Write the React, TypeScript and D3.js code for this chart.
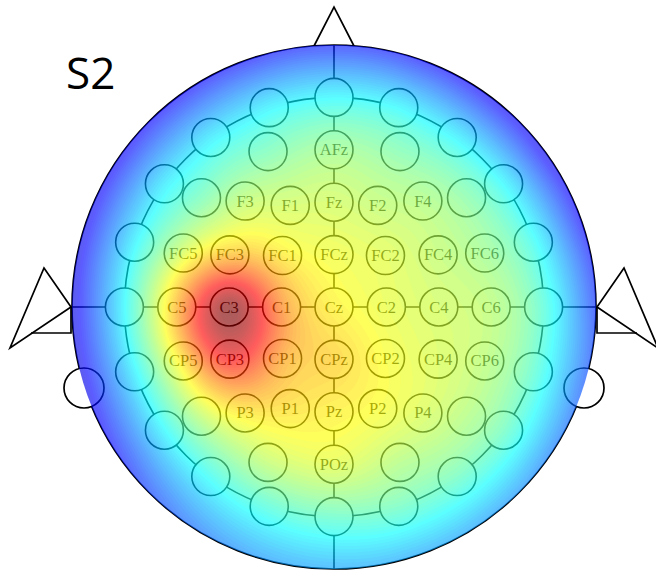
import { useMemo } from "react";
import * as d3 from "d3";

const W = 656;
const H = 572;
const CX = 334;
const CY = 307;
const HEAD_R = 262;
const ELEC_R = 19;
const STEP = 3;

// outer ring of the 10-10 montage: 72° from Cz, every 18° clockwise from the nose
const ringLabels = ["Fpz", "Fp2", "AF8", "F8", "FT8", "T8", "TP8", "P8", "PO8", "O2",
  "Oz", "O1", "PO7", "P7", "TP7", "T7", "FT7", "F7", "AF7", "Fp1"];
const ringValues = [0.37, 0.37, 0.36, 0.37, 0.39, 0.42, 0.43, 0.45, 0.45, 0.45,
  0.44, 0.42, 0.39, 0.37, 0.36, 0.37, 0.36, 0.35, 0.35, 0.36];
const RING_POLAR = 72;

// inner electrodes: polar angle from Cz, azimuth from the nose (deg)
const innerLabels = ["AF3", "AFz", "AF4",
  "F5", "F3", "F1", "Fz", "F2", "F4", "F6",
  "FC5", "FC3", "FC1", "FCz", "FC2", "FC4", "FC6",
  "C5", "C3", "C1", "Cz", "C2", "C4", "C6",
  "CP5", "CP3", "CP1", "CPz", "CP2", "CP4", "CP6",
  "P5", "P3", "P1", "Pz", "P2", "P4", "P6",
  "PO3", "POz", "PO4"];
const innerPolar = [58, 54, 58,
  59, 47.5, 38, 36, 38, 47.5, 59,
  55, 40, 25, 18, 25, 40, 55,
  54, 36, 18, 0, 18, 36, 54,
  55, 40, 25, 18, 25, 40, 55,
  59, 47.5, 38, 36, 38, 47.5, 59,
  58, 54, 58];
const innerAzimuth = [-23, 0, 23,
  -50.5, -40, -23.3, 0, 23.3, 40, 50.5,
  -70.3, -63.4, -45, 0, 45, 63.4, 70.3,
  -90, -90, -90, 0, 90, 90, 90,
  -109.7, -116.6, -135, 180, 135, 116.6, 109.7,
  -129.5, -140, -156.7, 180, 156.7, 140, 129.5,
  -157, 180, 157];
const innerValues = [0.46, 0.51, 0.47,
  0.46, 0.55, 0.57, 0.57, 0.55, 0.53, 0.48,
  0.58, 0.7, 0.65, 0.61, 0.59, 0.55, 0.51,
  0.71, 1.0, 0.76, 0.64, 0.6, 0.57, 0.54,
  0.66, 0.88, 0.73, 0.68, 0.62, 0.58, 0.54,
  0.55, 0.65, 0.66, 0.64, 0.62, 0.58, 0.53,
  0.55, 0.59, 0.53];

// values on the head rim (90° from Cz), every 18° clockwise from the nose
const rimValues = [0.14, 0.13, 0.11, 0.1, 0.12, 0.16, 0.2, 0.24, 0.27, 0.28,
  0.28, 0.26, 0.21, 0.14, 0.1, 0.09, 0.1, 0.11, 0.12, 0.13];

const shownLabels = new Set(["AFz", "F3", "F1", "Fz", "F2", "F4",
  "FC5", "FC3", "FC1", "FCz", "FC2", "FC4", "FC6",
  "C5", "C3", "C1", "Cz", "C2", "C4", "C6",
  "CP5", "CP3", "CP1", "CPz", "CP2", "CP4", "CP6",
  "P3", "P1", "Pz", "P2", "P4", "POz"]);

const title = "S2";

const jet = d3.scaleLinear<string>()
  .domain([0, 0.125, 0.375, 0.625, 0.875, 1])
  .range(["#00007f", "#0000ff", "#00ffff", "#ffff00", "#ff0000", "#7f0000"])
  .clamp(true);

const projection = d3.geoAzimuthalEquidistant()
  .rotate([0, -90])
  .scale(HEAD_R / (Math.PI / 2))
  .translate([CX, CY]);

const place = (polar: number, az: number) =>
  projection([180 - az, 90 - polar]) as [number, number];

// thin plate spline through the electrode values
function thinPlate(pts: { x: number; y: number; v: number }[]) {
  const n = pts.length;
  const m = n + 3;
  const U = (r: number) => (r > 1e-9 ? r * r * Math.log(r) : 0);
  const A: number[][] = [];
  for (let i = 0; i < m; i++) A.push(new Array(m + 1).fill(0));
  for (let i = 0; i < n; i++) {
    for (let j = 0; j < n; j++) {
      A[i][j] = U(Math.hypot(pts[i].x - pts[j].x, pts[i].y - pts[j].y));
    }
    A[i][n] = 1; A[i][n + 1] = pts[i].x; A[i][n + 2] = pts[i].y;
    A[n][i] = 1; A[n + 1][i] = pts[i].x; A[n + 2][i] = pts[i].y;
    A[i][m] = pts[i].v;
  }
  for (let c = 0; c < m; c++) {
    let p = c;
    for (let r = c + 1; r < m; r++) if (Math.abs(A[r][c]) > Math.abs(A[p][c])) p = r;
    [A[c], A[p]] = [A[p], A[c]];
    for (let r = 0; r < m; r++) {
      if (r === c) continue;
      const f = A[r][c] / A[c][c];
      if (f === 0) continue;
      for (let k = c; k <= m; k++) A[r][k] -= f * A[c][k];
    }
  }
  const w = A.map((row, i) => row[m] / row[i]);
  return (x: number, y: number) => {
    let s = w[n] + w[n + 1] * x + w[n + 2] * y;
    for (let i = 0; i < n; i++) s += w[i] * U(Math.hypot(x - pts[i].x, y - pts[i].y));
    return s;
  };
}

export default function App() {
  const electrodes = useMemo(() => {
    const ring = ringLabels.map((label, i) => {
      const [x, y] = place(RING_POLAR, i * 18);
      return { label, x, y, v: ringValues[i] };
    });
    const inner = innerLabels.map((label, i) => {
      const [x, y] = place(innerPolar[i], innerAzimuth[i]);
      return { label, x, y, v: innerValues[i] };
    });
    return [...ring, ...inner];
  }, []);

  const contours = useMemo(() => {
    const rim = rimValues.map((v, i) => {
      const [x, y] = place(90, i * 18);
      return { x, y, v };
    });
    const norm = (p: { x: number; y: number; v: number }) =>
      ({ x: (p.x - CX) / HEAD_R, y: (p.y - CY) / HEAD_R, v: p.v });
    const f = thinPlate([...electrodes, ...rim].map(norm));
    const x0 = CX - HEAD_R - STEP * 2;
    const y0 = CY - HEAD_R - STEP * 2;
    const nx = Math.ceil((HEAD_R * 2) / STEP) + 4;
    const ny = nx;
    const values = new Float64Array(nx * ny);
    for (let j = 0; j < ny; j++) {
      for (let i = 0; i < nx; i++) {
        const px = x0 + (i + 0.5) * STEP;
        const py = y0 + (j + 0.5) * STEP;
        const v = f((px - CX) / HEAD_R, (py - CY) / HEAD_R);
        values[j * nx + i] = Math.max(0, Math.min(1, v));
      }
    }
    const levels = d3.range(0, 1.0001, 0.01);
    const gen = d3.contours().size([nx, ny]).thresholds(levels);
    const path = d3.geoPath(d3.geoIdentity().scale(STEP).translate([x0, y0]));
    return gen(Array.from(values)).map((c) => ({ d: path(c) || "", fill: jet(c.value + 0.005) }));
  }, [electrodes]);

  const ringR = (RING_POLAR / 90) * HEAD_R;
  const nose = [[CX - 20, CY - HEAD_R + 1], [CX, CY - HEAD_R - 38], [CX + 20, CY - HEAD_R + 1]];
  const ear = (s: number) => ({
    tri: [[CX + s * (HEAD_R + 1), CY], [CX + s * 290, CY - 39], [CX + s * 324, CY + 41]],
    bar: [[CX + s * 303, CY + 26], [CX + s * (HEAD_R + 1), CY + 26], [CX + s * (HEAD_R + 1), CY]],
    lobe: [CX + s * 250, CY + 81],
  });
  const ears = [ear(-1), ear(1)];
  const line = d3.line();

  return (
    <svg width={W} height={H} style={{ position: "absolute", left: 0, top: 0, background: "#fff" }}>
      <defs>
        <clipPath id="head-clip">
          <circle cx={CX} cy={CY} r={HEAD_R} />
        </clipPath>
      </defs>
      <g stroke="#000" strokeWidth={1.7} fill="#fff" strokeLinejoin="miter">
        <path d={line(nose as [number, number][]) + "Z"} />
        {ears.map((e, i) => (
          <g key={i}>
            <path d={line(e.tri as [number, number][]) + "Z"} />
            <path d={line(e.bar as [number, number][]) || ""} fill="none" />
          </g>
        ))}
        <circle cx={CX} cy={CY} r={HEAD_R} />
        {ears.map((e, i) => (
          <circle key={i} cx={e.lobe[0]} cy={e.lobe[1]} r={20} />
        ))}
      </g>
      <g stroke="#000" strokeWidth={1.6} fill="none">
        <circle cx={CX} cy={CY} r={ringR} />
        <line x1={CX} y1={CY - HEAD_R} x2={CX} y2={CY + HEAD_R} />
        <line x1={CX - HEAD_R} y1={CY} x2={CX + HEAD_R} y2={CY} />
      </g>
      <g>
        {electrodes.map((e) => (
          <g key={e.label}>
            <circle cx={e.x} cy={e.y} r={ELEC_R} fill="#fff" stroke="#000" strokeWidth={1.6} />
            {shownLabels.has(e.label) && (
              <text x={e.x} y={e.y + 5.5} textAnchor="middle" fontFamily="'Liberation Serif', serif"
                fontSize={16.5} fill="#111">{e.label}</text>
            )}
          </g>
        ))}
      </g>
      <g clipPath="url(#head-clip)" opacity={0.64}>
        {contours.map((c, i) => (
          <path key={i} d={c.d} fill={c.fill} />
        ))}
      </g>
      <text x={66} y={89} fontFamily="'Open Sans', sans-serif" fontSize={44} fill="#000">{title}</text>
    </svg>
  );
}
